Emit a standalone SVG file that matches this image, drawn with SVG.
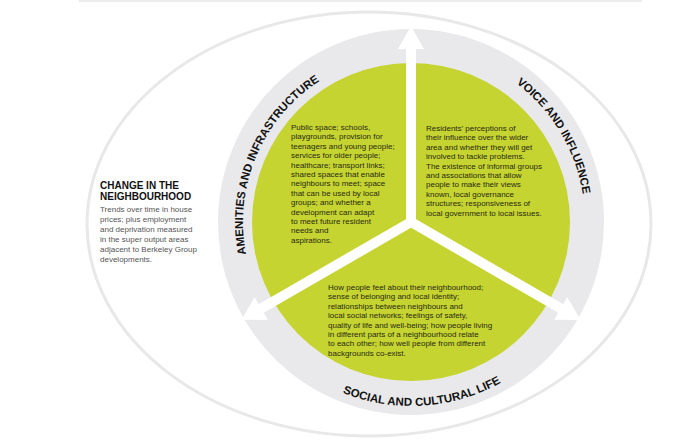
<svg xmlns="http://www.w3.org/2000/svg" width="683" height="446" viewBox="0 0 683 446">
<style>
.body{font-family:"Liberation Sans",Arial,sans-serif;font-size:8px;fill:#2a2a14}
.side{font-family:"Liberation Sans",Arial,sans-serif;font-size:8px;fill:#555}
.head{font-family:"Liberation Sans",Arial,sans-serif;font-size:10px;font-weight:bold;fill:#111}
.lab{font-family:"Liberation Sans",Arial,sans-serif;font-size:11.5px;font-weight:bold;fill:#111}
.arrow{fill:#fff}
</style>
<defs>
<path id="arcAmen" d="M 282.3,330.0 A 168 168 0 0 1 399.3,54.4"/>
<path id="arcVoice" d="M 395.8,48.6 A 174 174 0 0 1 556.9,316.8"/>
<path id="arcSocial" d="M 251.7,314.0 A 184 184 0 0 0 580.9,292.7"/>
<polygon id="arr" points="-5,0 -5,-173 -13,-173 0,-196 13,-173 5,-173 5,0"/>
</defs>
<rect width="683" height="446" fill="#fff"/>
<line x1="79" y1="1" x2="642" y2="1" stroke="#ececec" stroke-width="2"/>
<g id="outer-ellipse">
<ellipse cx="369" cy="224" rx="282" ry="212" fill="none" stroke="#e8e8e8" stroke-width="3"/>
</g>
<g id="ring">
<circle cx="411" cy="222" r="193" fill="#e9e9eb"/>
</g>
<g id="core">
<circle cx="411" cy="222" r="159" fill="#c5d431"/>
</g>
<g id="connectors">
<use href="#arr" class="arrow" transform="translate(411,222)"/>
<use href="#arr" class="arrow" transform="translate(411,222) rotate(120)"/>
<use href="#arr" class="arrow" transform="translate(411,222) rotate(240)"/>
</g>
<g id="amenities">
<text class="lab"><textPath href="#arcAmen" startOffset="50%" text-anchor="middle">AMENITIES AND INFRASTRUCTURE</textPath></text>
<text class="body" x="291">
<tspan x="291" y="130">Public space; schools,</tspan>
<tspan x="291" y="139.4">playgrounds, provision for</tspan>
<tspan x="291" y="148.8">teenagers and young people;</tspan>
<tspan x="291" y="158.2">services for older people;</tspan>
<tspan x="291" y="167.6">healthcare; transport links;</tspan>
<tspan x="291" y="177">shared spaces that enable</tspan>
<tspan x="291" y="186.4">neighbours to meet; space</tspan>
<tspan x="291" y="195.8">that can be used by local</tspan>
<tspan x="291" y="205.2">groups; and whether a</tspan>
<tspan x="291" y="214.6">development can adapt</tspan>
<tspan x="291" y="224">to meet future resident</tspan>
<tspan x="291" y="233.4">needs and</tspan>
<tspan x="291" y="242.8">aspirations.</tspan>
</text>
</g>
<g id="voice">
<text class="lab"><textPath href="#arcVoice" startOffset="50%" text-anchor="middle">VOICE AND INFLUENCE</textPath></text>
<text class="body">
<tspan x="426" y="131">Residents’ perceptions of</tspan>
<tspan x="426" y="140.4">their influence over the wider</tspan>
<tspan x="426" y="149.8">area and whether they will get</tspan>
<tspan x="426" y="159.2">involved to tackle problems.</tspan>
<tspan x="426" y="168.6">The existence of informal groups</tspan>
<tspan x="426" y="178">and associations that allow</tspan>
<tspan x="426" y="187.4">people to make their views</tspan>
<tspan x="426" y="196.8">known, local governance</tspan>
<tspan x="426" y="206.2">structures; responsiveness of</tspan>
<tspan x="426" y="215.6">local government to local issues.</tspan>
</text>
</g>
<g id="social">
<text class="lab"><textPath href="#arcSocial" startOffset="50%" text-anchor="middle">SOCIAL AND CULTURAL LIFE</textPath></text>
<text class="body">
<tspan x="328" y="290">How people feel about their neighbourhood;</tspan>
<tspan x="328" y="299.4">sense of belonging and local identity;</tspan>
<tspan x="328" y="308.8">relationships between neighbours and</tspan>
<tspan x="328" y="318.2">local social networks; feelings of safety,</tspan>
<tspan x="328" y="327.6">quality of life and well-being; how people living</tspan>
<tspan x="328" y="337">in different parts of a neighbourhood relate</tspan>
<tspan x="328" y="346.4">to each other; how well people from different</tspan>
<tspan x="328" y="355.8">backgrounds co-exist.</tspan>
</text>
</g>
<g id="change">
<text class="head"><tspan x="100" y="189">CHANGE IN THE</tspan><tspan x="100" y="200">NEIGHBOURHOOD</tspan></text>
<text class="side">
<tspan x="100" y="212">Trends over time in house</tspan>
<tspan x="100" y="222">prices; plus employment</tspan>
<tspan x="100" y="232">and deprivation measured</tspan>
<tspan x="100" y="242">in the super output areas</tspan>
<tspan x="100" y="252">adjacent to Berkeley Group</tspan>
<tspan x="100" y="262">developments.</tspan>
</text>
</g>
</svg>
